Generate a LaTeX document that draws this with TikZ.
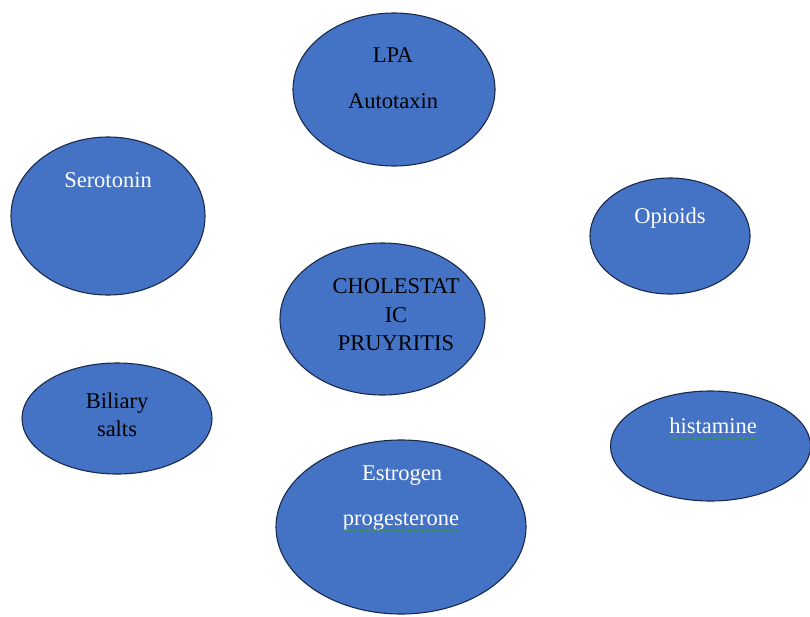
\documentclass[tikz,border=0pt]{standalone}
\usepackage{fontspec}
\setmainfont{Liberation Serif}
\newfontfamily\labelfont{Liberation Serif}
\usetikzlibrary{shapes.geometric, decorations.pathmorphing}
\definecolor{bubblefill}{HTML}{4472C4}
\definecolor{bubbleline}{HTML}{1A2A4A}
\definecolor{spellgreen}{HTML}{3A9A3A}
\begin{document}
\begin{tikzpicture}[
    x=1pt, y=-1pt,
    bubble/.style={ellipse, draw=bubbleline, line width=1.1pt, fill=bubblefill, inner sep=0pt},
    lbl/.style={anchor=base, inner sep=0pt, font=\labelfont\fontsize{22.5}{27}\selectfont},
    dark/.style={lbl, text=black},
    light/.style={lbl, text=white},
    squiggle/.style={draw=spellgreen, line width=0.6pt, decorate,
      decoration={snake, segment length=3pt, amplitude=0.7pt}}]
    \useasboundingbox (0,0) rectangle (810,616);
    % ellipses
    \node[bubble, minimum width=202pt, minimum height=153pt] (lpa)  at (394,89.5) {};
    \node[bubble, minimum width=194pt, minimum height=158pt] (sero) at (108,216) {};
    \node[bubble, minimum width=160pt, minimum height=116pt] (opio) at (670,236) {};
    \node[bubble, minimum width=205pt, minimum height=152pt] (chol) at (382.5,319) {};
    \node[bubble, minimum width=190pt, minimum height=111pt] (bili) at (117,418.5) {};
    \node[bubble, minimum width=200pt, minimum height=110pt] (hist) at (710.5,446) {};
    \node[bubble, minimum width=250pt, minimum height=174pt] (estr) at (401,527) {};
    % labels
    \node[dark]  (lpat)  at (393,62)  {LPA};
    \node[dark]  (autot) at (393,108) {Autotaxin};
    \node[light] (serot) at (108,187) {Serotonin};
    \node[light] (opiot) at (670,223) {Opioids};
    \node[dark]  (chol1) at (396,293) {CHOLESTAT};
    \node[dark]  (chol2) at (396,322) {IC};
    \node[dark]  (chol3) at (396,350) {PRUYRITIS};
    \node[dark]  (bil1)  at (117,408) {Biliary};
    \node[dark]  (bil2)  at (117,436) {salts};
    \node[light] (histt) at (713,433) {histamine};
    \node[light] (estt)  at (402,480) {Estrogen};
    \node[light] (prog)  at (401,525) {progesterone};
    % spell-check marks
    \draw[squiggle] ([yshift=-5pt]histt.base west) -- ([yshift=-5pt]histt.base east);
    \draw[squiggle] ([yshift=-5pt]prog.base west) -- ([yshift=-5pt]prog.base east);
  \end{tikzpicture}
\end{document}
